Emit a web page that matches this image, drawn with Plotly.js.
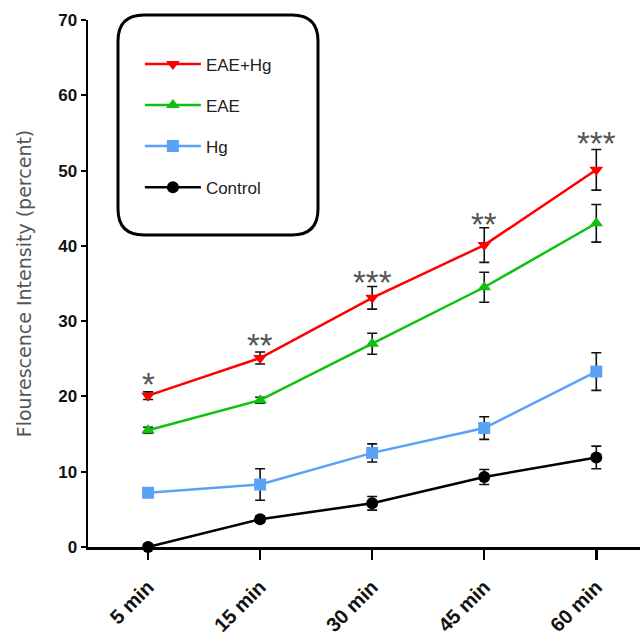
<!DOCTYPE html>
<html>
<head>
<meta charset="utf-8">
<script src="https://cdn.plot.ly/plotly-3.0.1.min.js"></script>
<style>html,body{margin:0;padding:0;background:#fff;}#chart{width:641px;height:642px;}</style>
</head>
<body>
<div id="chart"></div>
<script>
// ---- data ----
const timeLabels = ["5 min", "15 min", "30 min", "45 min", "60 min"];
const eaeHg = [20.1, 25.1, 33.1, 40.1, 50.1];
const eaeHgErr = [0.5, 0.8, 1.5, 2.3, 2.7];
const eae = [15.5, 19.5, 27.0, 34.5, 43.0];
const eaeErr = [0.4, 0.4, 1.4, 2.0, 2.5];
const hg = [7.2, 8.3, 12.5, 15.8, 23.3];
const hgErr = [0.4, 2.1, 1.2, 1.5, 2.5];
const control = [0.0, 3.7, 5.8, 9.3, 11.9];
const controlErr = [0.4, 0.4, 0.9, 1.0, 1.5];
const sigLabels = ["*", "**", "***", "**", "***"];
const sigY = [21.6, 26.7, 35.1, 42.9, 53.6];
const yTicks = [0, 10, 20, 30, 40, 50, 60, 70];

const xIdx = timeLabels.map((_, i) => i);

function series(name, y, err, color, symbol) {
  return {
    type: "scatter", mode: "lines+markers", name: name,
    x: xIdx, y: y, legendgroup: name,
    line: {color: color, width: 2.5},
    marker: {color: color, symbol: symbol, size: 12},
    error_y: {type: "data", array: err, visible: true, color: "#111", thickness: 1.6, width: 5},
    cliponaxis: false
  };
}

const traces = [
  series("EAE+Hg", eaeHg, eaeHgErr, "#ff0000", "triangle-down"),
  series("EAE", eae, eaeErr, "#10c010", "triangle-up"),
  series("Hg", hg, hgErr, "#5aa2f5", "square"),
  series("Control", control, controlErr, "#000000", "circle")
];

// rounded legend frame in paper coordinates
const W = 552, H = 527;
const x0 = (118 - 88) / W, x1 = (318 - 88) / W;
const y0 = (547 - 235) / H, y1 = (547 - 15) / H;
const rx = 26 / W, ry = 26 / H;
const framePath = `M ${x0 + rx} ${y1} L ${x1 - rx} ${y1} Q ${x1} ${y1} ${x1} ${y1 - ry} ` +
  `L ${x1} ${y0 + ry} Q ${x1} ${y0} ${x1 - rx} ${y0} L ${x0 + rx} ${y0} Q ${x0} ${y0} ${x0} ${y0 + ry} ` +
  `L ${x0} ${y1 - ry} Q ${x0} ${y1} ${x0 + rx} ${y1} Z`;

const annotations = sigLabels.map((t, i) => ({
  x: i, y: sigY[i], xref: "x", yref: "y", text: t, showarrow: false,
  font: {family: "Liberation Sans, Arial", size: 33, color: "#555"}
}));

const layout = {
  width: 641, height: 642,
  margin: {l: 88, r: 1, t: 20, b: 95},
  paper_bgcolor: "#fff", plot_bgcolor: "#fff",
  showlegend: true,
  legend: {
    x: 0.094, y: 0.95, xanchor: "left", yanchor: "top",
    bgcolor: "rgba(0,0,0,0)", borderwidth: 0,
    traceorder: "grouped", tracegroupgap: 16, itemwidth: 56,
    font: {family: "Liberation Sans, Arial", size: 17, color: "#222"}
  },
  xaxis: {
    range: [-0.536, 4.39], tickvals: xIdx, ticktext: timeLabels,
    tickangle: -45, showgrid: false, zeroline: false,
    showline: true, linecolor: "#000", linewidth: 2.5,
    ticks: "outside", ticklen: 10, tickwidth: 2.5, tickcolor: "#000",
    ticklabelstandoff: 8,
    tickfont: {family: "Liberation Sans, Arial", size: 20, color: "#111", weight: "bold"}
  },
  yaxis: {
    range: [0, 70], tickvals: yTicks, showgrid: false, zeroline: false,
    showline: true, linecolor: "#000", linewidth: 2.5,
    ticks: "outside", ticklen: 5, tickwidth: 2, tickcolor: "#000",
    tickfont: {family: "Liberation Sans, Arial", size: 17, color: "#111", weight: "bold"},
    title: {text: "Flourescence Intensity (percent)", standoff: 22,
      font: {family: "DejaVu Sans, Arial", size: 19, color: "#555"}}
  },
  shapes: [{type: "path", xref: "paper", yref: "paper", path: framePath,
    line: {color: "#000", width: 3}, fillcolor: "rgba(0,0,0,0)"}],
  annotations: annotations
};

Plotly.newPlot("chart", traces, layout, {displayModeBar: false, staticPlot: true});
</script>
</body>
</html>
